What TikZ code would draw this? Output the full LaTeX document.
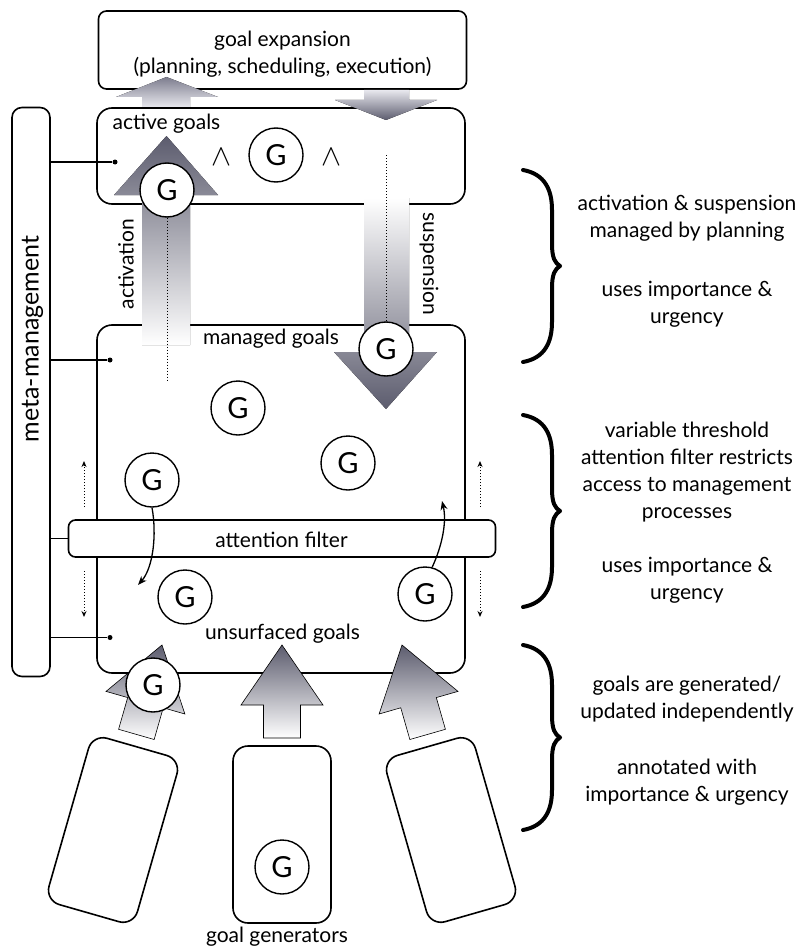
\documentclass[tikz,border=0pt]{standalone}
\usepackage{fontspec}
\setmainfont{Lato}
\usetikzlibrary{arrows.meta}
\definecolor{adark}{RGB}{92,92,110}
\definecolor{asoft}{RGB}{125,125,142}
\definecolor{alight}{RGB}{232,232,238}
\newcommand\mybrace[3]{%
  \pgfmathsetmacro\bym{(#2+#3)/2}%
  \draw[bracestyle] (#1,#2) .. controls (#1+22,#2+4) and (#1+29,#2+20) .. (#1+29,#2+40)
     -- (#1+29,\bym-22) .. controls (#1+29,\bym-8) and (#1+32,\bym-3) .. (#1+37,\bym)
     .. controls (#1+32,\bym+3) and (#1+29,\bym+8) .. (#1+29,\bym+22)
     -- (#1+29,#3-40) .. controls (#1+29,#3-20) and (#1+22,#3-4) .. (#1,#3);
}
\begin{document}
\begin{tikzpicture}[x=1pt,y=-1pt,
  lbl/.style={font=\fontsize{21}{27}\selectfont, inner sep=0pt},
  rlbl/.style={font=\fontsize{21}{27}\selectfont, inner sep=0pt, align=center},
  gbox/.style={draw, line width=1.6pt, rounded corners=15pt, inner sep=0pt},
  gc/.style={circle, draw, line width=1.4pt, fill=white, minimum size=54pt, inner sep=0pt, font=\fontsize{29}{30}\selectfont},
  dot/.style={circle, fill=black, inner sep=0pt, minimum size=5pt},
  conn/.style={line width=1.3pt},
  dots/.style={dotted, line width=1pt},
  dotarr/.style={dotted, line width=1pt, -{Stealth[length=6pt,width=5pt]}},
  curvarr/.style={line width=1.3pt, -{Stealth[length=9pt,width=7pt]}},
  bracestyle/.style={line width=4pt, line cap=round, line join=round},
  gen/.style={gbox, minimum width=92pt, minimum height=173pt},
  garrow/.style={draw=black, line width=0.6pt, top color=adark, bottom color=white},
  wedge/.style={inner sep=0pt, font=\fontsize{10}{12}\selectfont, scale=3},
]
\useasboundingbox (0,0) rectangle (804,947);

% boxes
\node[gbox, rounded corners=8pt, minimum width=368pt, minimum height=78pt] (exp) at (282.5,50) {};
\node[lbl, align=center] (exptext) at (282.5,54) {goal expansion\\(planning, scheduling, execution)};
\node[gbox, minimum width=368pt, minimum height=96pt] (active) at (281,156) {};
\node[gbox, minimum width=368pt, minimum height=348pt] (managed) at (281,499) {};
\node[gbox, rounded corners=10pt, minimum width=38pt, minimum height=569pt] (meta) at (31,392) {};
\node[inner sep=0pt, font=\fontsize{25}{30}\selectfont, rotate=90] (metatext) at (32.5,339) {meta-management};
\node[gbox, rounded corners=7pt, fill=white, minimum width=427pt, minimum height=37pt] (filter) at (282,538.5) {};
\node[lbl] (filtertext) at (281.5,539.5) {attention filter};

% labels in boxes
\node[lbl] (activetext) at (166.5,124) {active goals};
\node[lbl] (managedtext) at (271,339) {managed goals};
\node[lbl] (unsurftext) at (282.5,633.5) {unsurfaced goals};
\node[lbl, rotate=90] (actlabel) at (126,264) {activation};
\node[lbl, rotate=-90] (suslabel) at (429,264) {suspension};

% big arrows
\fill[top color=asoft, bottom color=alight] (142,107) -- (142,97) -- (116,97) -- (166.5,77) -- (218,97) -- (190,97) -- (190,107) -- cycle;
\fill[top color=alight, bottom color=adark] (364,90) -- (364,100) -- (335,100) -- (386,120) -- (437,100) -- (409,100) -- (409,90) -- cycle;
\fill[top color=adark, bottom color=white] (142,345) -- (142,195) -- (114,195) -- (166.5,136) -- (218,195) -- (190,195) -- (190,345) -- cycle;
\fill[top color=white, bottom color=adark] (364,198) -- (364,352) -- (334,352) -- (386,409) -- (437,352) -- (409,352) -- (409,198) -- cycle;

% generator arrows
\path[garrow] (263.5,738) -- (263.5,705) -- (241,705) -- (282,645) -- (323,705) -- (300.5,705) -- (300.5,738) -- cycle;
\begin{scope}[shift={(162,645)}, rotate=-16]
\path[garrow] (-18.5,93) -- (-18.5,60) -- (-41,60) -- (0,0) -- (41,60) -- (18.5,60) -- (18.5,93) -- cycle;
\end{scope}
\begin{scope}[shift={(402,645)}, rotate=16]
\path[garrow] (-18.5,93) -- (-18.5,60) -- (-41,60) -- (0,0) -- (41,60) -- (18.5,60) -- (18.5,93) -- cycle;
\end{scope}

% generator boxes
\node[gen, rotate=-16] (gen1) at (113,830) {};
\node[gbox, minimum width=98pt, minimum height=177pt] (gen2) at (282,834.5) {};
\node[gen, rotate=16] (gen3) at (451,830) {};
\node[lbl] (gentext) at (277,937) {goal generators};

% goals
\node[gc] (g1) at (276,155) {G};
\node[wedge] (w1) at (221,157) {$\wedge$};
\node[wedge] (w2) at (331,157) {$\wedge$};
\node[gc] (g2) at (167,190) {G};
\node[gc] (g3) at (386,349) {G};
\node[gc] (g4) at (238,408) {G};
\node[gc] (g5) at (348,463) {G};
\node[gc] (g6) at (152,480) {G};
\node[gc] (g7) at (185,597) {G};
\node[gc] (g8) at (425,594) {G};
\node[gc] (g9) at (153,685) {G};
\node[gc] (g10) at (282,867) {G};

% dotted lines
\coordinate (a1) at (167,380);
\draw[dots] (g2.south) -- (a1);
\coordinate (s1) at (386,155);
\draw[dots] (s1) -- (g3.north);

% meta connectors
\node[dot] (d1) at (115,162) {};
\node[dot] (d2) at (110,360) {};
\node[dot] (d3) at (110,637.5) {};
\draw[conn] (meta.east |- d1) -- (d1);
\draw[conn] (meta.east |- d2) -- (d2);
\draw[conn] (meta.east |- d3) -- (d3);
\draw[conn] (meta.east |- filter.west) -- (filter.west);

% curved arrows through filter
\coordinate (c6) at (138,585);
\draw[curvarr] (g6.south) .. controls (157,535) and (153,568) .. (c6);
\coordinate (c8) at (442,501);
\draw[curvarr] (g8.75) .. controls (442,546) and (447,522) .. (c8);

% dotted arrows
\coordinate (la1) at (84,507); \coordinate (la2) at (84,461);
\coordinate (la3) at (84,571); \coordinate (la4) at (84,617);
\coordinate (ra1) at (480,507); \coordinate (ra2) at (480,461);
\coordinate (ra3) at (480,571); \coordinate (ra4) at (480,617);
\draw[dotarr] (la1) -- (la2);
\draw[dotarr] (la3) -- (la4);
\draw[dotarr] (ra1) -- (ra2);
\draw[dotarr] (ra3) -- (ra4);

% braces
\mybrace{523}{170}{362}
\mybrace{523}{415}{607}
\mybrace{523}{645}{830}

% right texts
\node[rlbl] (t1) at (687,218.5) {activation \& suspension\\managed by planning};
\node[rlbl] (t2) at (687,304.5) {uses importance \&\\urgency};
\node[rlbl] (t3) at (687,472.5) {variable threshold\\attention filter restricts\\access to management\\processes};
\node[rlbl] (t4) at (687,580.5) {uses importance \&\\urgency};
\node[rlbl] (t5) at (687,699.5) {goals are generated/\\updated independently};
\node[rlbl] (t6) at (687,782.5) {annotated with\\importance \& urgency};
\end{tikzpicture}
\end{document}
